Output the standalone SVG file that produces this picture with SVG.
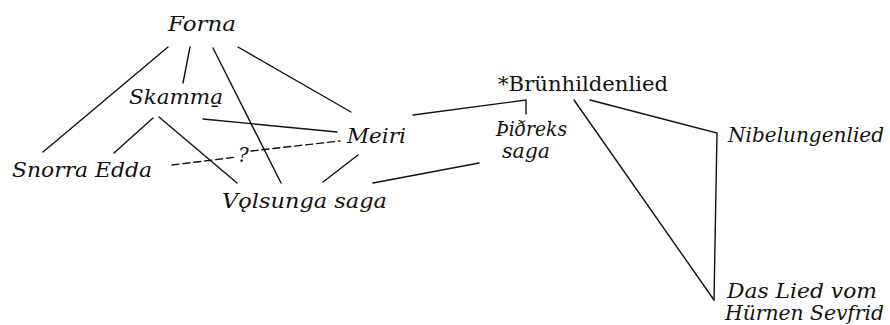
<svg xmlns="http://www.w3.org/2000/svg" width="890" height="325" viewBox="0 0 890 325">
  <style>
    text { font-family: 'DejaVu Serif', serif; }
    .lbl { font-style: italic; font-size: 20px; fill: #111; }
    .up { font-style: normal; }
    .ln { stroke: #111; stroke-width: 1.4; fill: none; stroke-linecap: round; stroke-linejoin: miter; }
    .dash { stroke-dasharray: 7 4; }
  </style>
  <rect width="890" height="325" fill="#fff"/>

  <!-- connectors -->
  <g id="connectors">
    <!-- from Forna -->
    <line class="ln" x1="168" y1="47" x2="43" y2="152"/>
    <line class="ln" x1="190" y1="47" x2="183" y2="83"/>
    <line class="ln" x1="213" y1="48" x2="281" y2="183"/>
    <line class="ln" x1="238" y1="47" x2="351" y2="112"/>
    <!-- from Skamma -->
    <line class="ln" x1="153" y1="118" x2="114" y2="153"/>
    <line class="ln" x1="159" y1="117" x2="237" y2="183"/>
    <line class="ln" x1="203" y1="119" x2="337" y2="132"/>
    <!-- uncertain link Snorra Edda – Meiri -->
    <line class="ln dash" x1="172" y1="165" x2="237" y2="157"/>
    <line class="ln dash" x1="251" y1="151" x2="340" y2="141"/>
    <!-- Meiri – Vǫlsunga saga -->
    <line class="ln" x1="358" y1="155" x2="323" y2="182"/>
    <!-- Vǫlsunga saga – Þiðreks saga -->
    <line class="ln" x1="373" y1="183" x2="479" y2="163"/>
    <!-- Meiri / Þiðreks saga – *Brünhildenlied -->
    <polyline class="ln" points="413,115 526,100 526,114"/>
    <!-- *Brünhildenlied – Nibelungenlied / Das Lied vom Hürnen Seyfrid -->
    <polyline class="ln" points="590,100 717,133 714,300"/>
    <line class="ln" x1="574" y1="100" x2="714" y2="300"/>
  </g>

  <!-- nodes -->
  <g id="forna"><text class="lbl" x="168" y="31" textLength="68" lengthAdjust="spacingAndGlyphs">Forna</text></g>
  <g id="skamma"><text class="lbl" x="129" y="104" textLength="94" lengthAdjust="spacingAndGlyphs">Skamma̱</text></g>
  <g id="meiri"><text class="lbl" x="347" y="143" textLength="59" lengthAdjust="spacingAndGlyphs">Meiri</text></g>
  <g id="snorra-edda"><text class="lbl" x="12" y="177" textLength="140" lengthAdjust="spacingAndGlyphs">Snorra Edda</text></g>
  <g id="volsunga-saga"><text class="lbl" x="222" y="208" textLength="165" lengthAdjust="spacingAndGlyphs">Vǫlsunga saga</text></g>
  <g id="uncertain"><text class="lbl" x="238" y="162" font-size="18">?</text></g>
  <g id="thidreks-saga">
    <text class="lbl" x="496" y="136" font-size="16" textLength="71" lengthAdjust="spacingAndGlyphs">Þiðreks</text>
    <text class="lbl" x="502" y="158" font-size="16" textLength="48" lengthAdjust="spacingAndGlyphs">saga</text>
  </g>
  <g id="brunhildenlied"><text class="lbl up" x="498" y="91" font-size="21" textLength="170" lengthAdjust="spacingAndGlyphs">*Brünhildenlied</text></g>
  <g id="nibelungenlied"><text class="lbl" x="728" y="142" font-size="19" textLength="156" lengthAdjust="spacingAndGlyphs">Nibelungenlied</text></g>
  <g id="hurnen-seyfrid">
    <text class="lbl" x="727" y="298" font-size="18" textLength="150" lengthAdjust="spacingAndGlyphs">Das Lied vom</text>
    <text class="lbl" x="725" y="320" font-size="18" textLength="159" lengthAdjust="spacingAndGlyphs">Hürnen Sevfrid</text>
  </g>
</svg>
